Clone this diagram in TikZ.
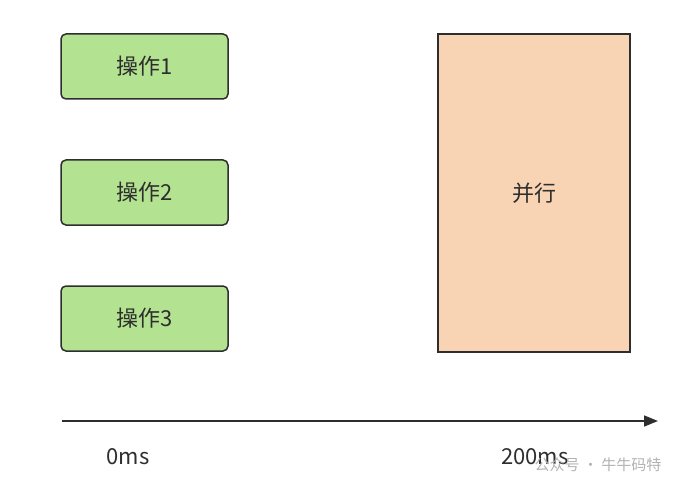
\documentclass[tikz,border=0pt]{standalone}
\usepackage{fontspec}
\setmainfont{Noto Sans CJK SC}
\usetikzlibrary{arrows.meta}
\definecolor{gfill}{HTML}{B3E291}
\definecolor{ofill}{HTML}{F8D4B4}
\definecolor{ln}{HTML}{2E2E2E}
\tikzset{
 op/.style={draw=ln,line width=1.5pt,fill=gfill,rounded corners=5pt,minimum width=167pt,minimum height=65pt,font=\fontsize{22}{26}\selectfont,text=ln},
 par/.style={draw=ln,line width=1.5pt,fill=ofill,minimum width=192pt,minimum height=318pt,font=\fontsize{22}{26}\selectfont,text=ln},
 lbl/.style={font=\fontsize{22}{26}\selectfont,text=ln},
}
\begin{document}
\begin{tikzpicture}[x=1pt,y=-1pt]
\useasboundingbox (0,0) rectangle (700,494);
\node[op] (o1) at (144.5,66.5) {操作1};
\node[op] (o2) at (144.5,192.5) {操作2};
\node[op] (o3) at (144.5,318.5) {操作3};
\node[par] (p) at (534,193) {并行};
\coordinate (a0) at (62,421);
\coordinate (a1) at (658,421);
\draw[ln,line width=1.5pt,-{Triangle[length=14pt,width=11pt]}] (a0) -- (a1);
\node[lbl] (t0) at (128,457) {0ms};
\node[lbl] (t1) at (535,457) {200ms};
\node[font=\fontsize{15}{17}\selectfont,text=gray!60] (wm) at (598,465) {公众号 · 牛牛码特};
\end{tikzpicture}
\end{document}
